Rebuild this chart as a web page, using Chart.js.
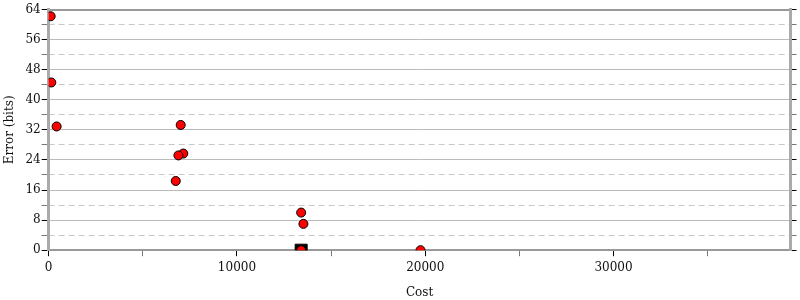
<!DOCTYPE html>
<html>
<head>
<meta charset="utf-8">
<script src="https://cdn.jsdelivr.net/npm/chart.js@4/dist/chart.umd.min.js"></script>
<style>
    body { margin: 0; background: #fff; }
    #wrap { width: 800px; height: 300px; }
</style>
</head>
<body>
<div id="wrap"><canvas id="chart"></canvas></div>
<script>
// cost / error pairs
const costs = [106, 140, 423, 7013, 7150, 6890, 6750, 13410, 13530, 13410, 19750];
const errors = [62.2, 44.6, 32.9, 33.3, 25.7, 25.2, 18.4, 10.0, 7.0, 0, 0];
const bestCost = [13410];
const bestError = [0];

const xTicks = [0, 5000, 10000, 15000, 20000, 25000, 30000, 35000];
const xMax = 39400;
const yMax = 64;

const serif = "'DejaVu Serif', serif";

const points = costs.map((c, i) => ({ x: c, y: errors[i] }));
const best = bestCost.map((c, i) => ({ x: c, y: bestError[i] }));

const ctx = document.getElementById('chart').getContext('2d');

new Chart(ctx, {
    type: 'scatter',
    data: {
        datasets: [{
            data: points,
            backgroundColor: '#ff0000',
            borderColor: '#000',
            borderWidth: 1,
            pointRadius: 4.5,
            order: 1,
            clip: 0,
        }, {
            data: best,
            pointStyle: 'rect',
            backgroundColor: '#000',
            borderColor: '#000',
            borderWidth: 1,
            pointRadius: 8.5,
            order: 2,
            clip: 0,
        }]
    },
    options: {
        responsive: true,
        maintainAspectRatio: false,
        animation: false,
        events: [],
        layout: { padding: { top: 2, right: 1, left: 3, bottom: 0 } },
        plugins: {
            legend: { display: false },
            tooltip: { enabled: false },
        },
        scales: {
            x: {
                type: 'linear',
                position: 'bottom',
                min: 0,
                max: xMax,
                // stepSize alone gets stretched to fit the max, so set them here
                afterBuildTicks: scale => {
                    scale.ticks = xTicks.map(v => ({ value: v }));
                },
                ticks: {
                    autoSkip: false,
                    maxRotation: 0,
                    color: '#111',
                    font: { family: serif, size: 12 },
                    padding: 4,
                    callback: v => (v % 10000 === 0 ? String(v) : ''),
                },
                grid: {
                    drawOnChartArea: false,
                    tickLength: 6,
                    tickColor: c => (c.tick && c.tick.value % 10000 === 0 ? '#000' : '#777'),
                },
                border: { color: '#999', width: 2 },
                title: {
                    display: true,
                    text: 'Cost',
                    color: '#111',
                    font: { family: serif, size: 12 },
                    padding: { top: 7, bottom: 0 },
                },
            },
            xTop: {
                type: 'linear',
                position: 'top',
                min: 0,
                max: xMax,
                ticks: { display: false },
                grid: { drawOnChartArea: false, drawTicks: false },
                border: { color: '#999', width: 2 },
            },
            y: {
                type: 'linear',
                position: 'left',
                min: 0,
                max: yMax,
                ticks: {
                    stepSize: 4,
                    autoSkip: false,
                    color: '#111',
                    font: { family: serif, size: 12 },
                    padding: 1,
                    callback: v => (v % 8 === 0 ? v : ''),
                },
                grid: {
                    tickLength: 7,
                    color: c => (c.tick && c.tick.value % 8 === 0 ? '#bbbbbb' : 'rgba(0,0,0,0)'),
                    tickColor: c => (c.tick && c.tick.value % 8 === 0 ? '#000' : '#777'),
                },
                border: { color: '#aaa', width: 3 },
                title: {
                    display: true,
                    text: 'Error (bits)',
                    color: '#111',
                    font: { family: serif, size: 12 },
                    padding: { top: 0, bottom: 7 },
                },
            },
            yMinor: {
                type: 'linear',
                position: 'right',
                min: 0,
                max: yMax,
                ticks: { display: false, stepSize: 4, autoSkip: false },
                grid: {
                    tickLength: 6,
                    color: c => (c.tick && c.tick.value % 8 !== 0 ? '#c8c8c8' : 'rgba(0,0,0,0)'),
                    tickColor: c => (c.tick && c.tick.value % 8 === 0 ? '#000' : '#777'),
                },
                border: { color: '#aaa', width: 3, dash: [6, 4] },
            },
        },
    },
});
</script>
</body>
</html>
